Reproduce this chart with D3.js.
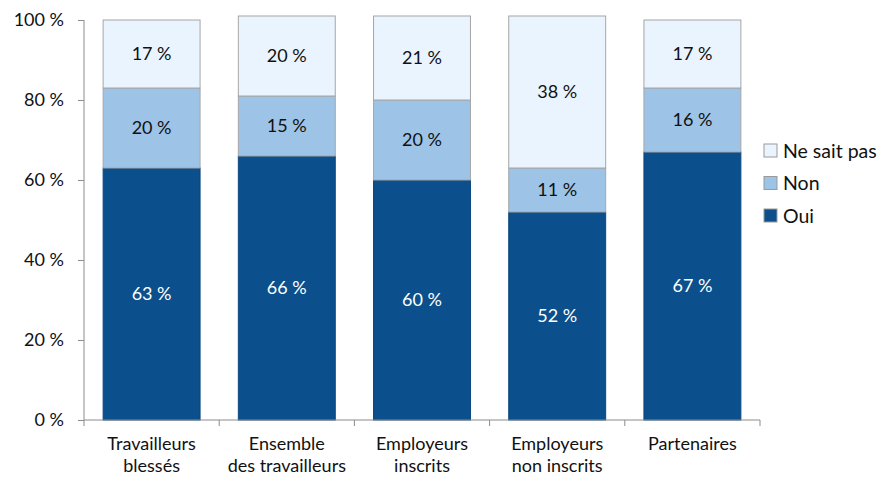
<!DOCTYPE html>
<html>
<head>
<meta charset="utf-8">
<script src="https://cdn.jsdelivr.net/npm/d3@7"></script>
<style>
  html, body { margin: 0; padding: 0; background: #fff; }
  svg { display: block; font-family: Lato, "Open Sans", sans-serif; }
</style>
</head>
<body>
<svg id="chart" width="882" height="477"></svg>
<script>
// Groups surveyed (two-line labels)
const categories = [
  ["Travailleurs", "blessés"],
  ["Ensemble", "des travailleurs"],
  ["Employeurs", "inscrits"],
  ["Employeurs", "non inscrits"],
  ["Partenaires"]
];
// Share of answers per group, in percent
const oui = [63, 66, 60, 52, 67];
const non = [20, 15, 20, 11, 16];
const neSaitPas = [17, 20, 21, 38, 17];
const seriesNames = ["Oui", "Non", "Ne sait pas"];
const yTicks = [0, 20, 40, 60, 80, 100];

const colors = { "Oui": "#0b4f8c", "Non": "#9dc3e6", "Ne sait pas": "#eaf4fe" };
const textColors = { "Oui": "#ffffff", "Non": "#111111", "Ne sait pas": "#111111" };
const fontSize = 18;

const svg = d3.select("#chart");
const x = d3.scaleBand().domain(d3.range(categories.length))
  .range([84, 760]).paddingInner(0.283).paddingOuter(0.1415);
const y = d3.scaleLinear().domain([0, 100]).range([420, 20]);

const rows = categories.map((c, i) => ({ i, "Oui": oui[i], "Non": non[i], "Ne sait pas": neSaitPas[i] }));
const stacked = d3.stack().keys(seriesNames)(rows);

// Stacked bars
const layers = svg.append("g").selectAll("g").data(stacked).join("g");
layers.selectAll("rect").data(d => d.map(v => ({ key: d.key, v })))
  .join("rect")
  .attr("x", d => x(d.v.data.i))
  .attr("width", x.bandwidth())
  .attr("y", d => y(d.v[1]))
  .attr("height", d => y(d.v[0]) - y(d.v[1]))
  .attr("fill", d => colors[d.key])
  .attr("stroke", d => d.key === "Oui" ? "#0a4780" : "#a6a6a6")
  .attr("stroke-width", 1);

// Value labels centred in each segment
layers.selectAll("text").data(d => d.map(v => ({ key: d.key, v })))
  .join("text")
  .attr("x", d => x(d.v.data.i) + x.bandwidth() / 2)
  .attr("y", d => y((d.v[0] + d.v[1]) / 2))
  .attr("dy", "0.35em")
  .attr("text-anchor", "middle")
  .attr("font-size", fontSize)
  .attr("fill", d => textColors[d.key])
  .text(d => (d.v[1] - d.v[0]) + " %");

// Y axis
const yAxis = svg.append("g").attr("transform", "translate(84,0)")
  .call(d3.axisLeft(y).tickValues(yTicks).tickSize(6).tickPadding(14).tickFormat(d => d + " %"));
yAxis.select(".domain").attr("stroke", "#8c8c8c").attr("d", "M0,420V20");
yAxis.selectAll(".tick line").attr("stroke", "#8c8c8c");
yAxis.selectAll(".tick text").attr("font-size", fontSize).attr("fill", "#111").attr("font-family", "Lato, sans-serif");

// X axis baseline with ticks between groups
const xAxis = svg.append("g");
xAxis.append("line").attr("x1", 84).attr("x2", 760).attr("y1", y(0)).attr("y2", y(0)).attr("stroke", "#8c8c8c");
const bounds = d3.range(categories.length + 1).map(i => i < categories.length ? x(i) - x.step() * x.paddingInner() / 2 : x(i - 1) + x.bandwidth() + x.step() * x.paddingInner() / 2);
xAxis.selectAll("line.t").data(bounds).join("line").attr("class", "t")
  .attr("x1", d => d).attr("x2", d => d).attr("y1", y(0)).attr("y2", y(0) + 6).attr("stroke", "#8c8c8c");
xAxis.selectAll("text").data(categories).join("text")
  .attr("x", (d, i) => x(i) + x.bandwidth() / 2)
  .attr("y", 450)
  .attr("text-anchor", "middle")
  .attr("font-size", fontSize)
  .attr("fill", "#111")
  .selectAll("tspan").data(d => d).join("tspan")
  .attr("x", function () { return d3.select(this.parentNode).attr("x"); })
  .attr("dy", (d, j) => j === 0 ? 0 : 22)
  .text(d => d);

// Legend
const legendItems = ["Ne sait pas", "Non", "Oui"];
const legend = svg.append("g").selectAll("g").data(legendItems).join("g")
  .attr("transform", (d, i) => `translate(764,${144 + i * 32.5})`);
legend.append("rect").attr("width", 13).attr("height", 13)
  .attr("fill", d => colors[d]).attr("stroke", "#9a9a9a");
legend.append("text").attr("x", 19).attr("y", 7).attr("dy", "0.35em")
  .attr("font-size", 19.5).attr("fill", "#111").text(d => d);
</script>
</body>
</html>
